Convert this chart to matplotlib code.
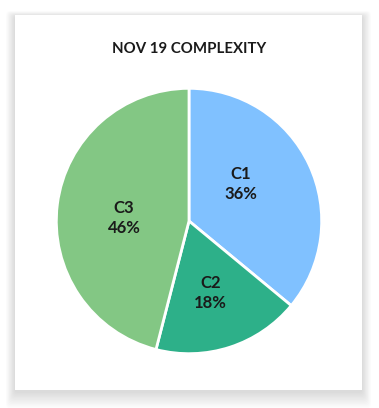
import matplotlib.pyplot as plt
from matplotlib.patches import FancyBboxPatch

labels = ["C1", "C2", "C3"]
shares = [36, 18, 46]
colors = ["#80c1ff", "#2db089", "#83c784"]
title = "NOV 19 COMPLEXITY"

plt.rcParams["font.family"] = ["Lato", "DejaVu Sans"]

fig = plt.figure(figsize=(3.79, 4.08), dpi=100)
fig.patch.set_facecolor("white")

# card with a soft shadow
x0, y0, w, h = 15 / 379, 18 / 408, 347 / 379, 375 / 408
for i in range(12):
    pad = (12 - i) * 0.0028
    fig.patches.append(FancyBboxPatch(
        (x0 - pad * 0.7, y0 - pad * 1.2 - 0.004), w + pad * 1.4, h + pad * 1.6,
        boxstyle="round,pad=0,rounding_size=0.01", transform=fig.transFigure,
        facecolor="black", edgecolor="none", alpha=0.012, zorder=0))
fig.patches.append(FancyBboxPatch(
    (x0, y0), w, h, boxstyle="square,pad=0", transform=fig.transFigure,
    facecolor="white", edgecolor="none", zorder=1))

fig.text(0.5, 1 - 49 / 408, title, ha="center", va="center",
         fontsize=10.8, fontweight="bold", color="#1a1a1a", zorder=3)

ax = fig.add_axes([55 / 379, 1 - 355 / 408, 268 / 379, 268 / 408])
ax.set_zorder(2)
wedges, texts = ax.pie(
    shares, labels=[f"{l}\n{s}%" for l, s in zip(labels, shares)],
    colors=colors, startangle=90, counterclock=False,
    labeldistance=0.5, wedgeprops=dict(edgecolor="white", linewidth=2),
    textprops=dict(ha="center", va="center", fontsize=12,
                   fontweight="bold", color="#1a1a1a", linespacing=1.3))
# label anchors as placed in the original chart
for t, pos in zip(texts, [(0.39, 0.28), (0.16, -0.54), (-0.49, 0.02)]):
    t.set_position(pos)
ax.set_xlim(-1.01, 1.01)
ax.set_ylim(-1.01, 1.01)
ax.set_aspect("equal")
ax.axis("off")

fig.savefig("out.png", dpi=100)
